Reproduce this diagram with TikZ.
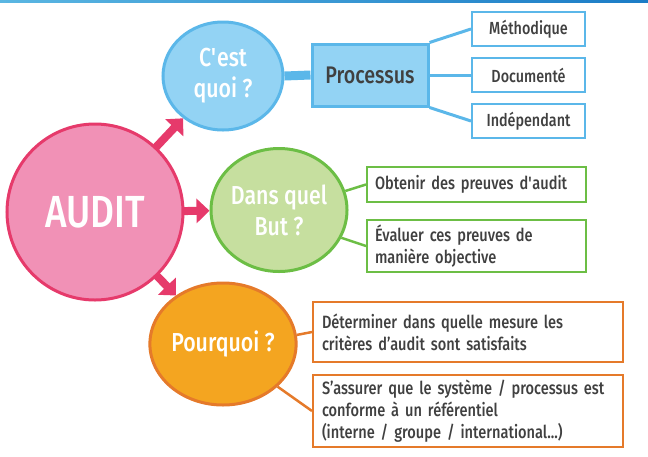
\documentclass[tikz,border=0pt]{standalone}
\usepackage{fontspec}
\setmainfont{Fira Sans}[FakeStretch=0.82,UprightFont=* Medium]
\usetikzlibrary{arrows.meta,shapes.geometric}
\definecolor{pinkfill}{HTML}{F191B6}
\definecolor{pinkline}{HTML}{E63A6B}
\definecolor{bluefill}{HTML}{93D3F4}
\definecolor{blueline}{HTML}{5BB7E9}
\definecolor{greenfill}{HTML}{C6DF9F}
\definecolor{greenline}{HTML}{6CBE45}
\definecolor{orangefill}{HTML}{F4A520}
\definecolor{orangeline}{HTML}{E57A2A}
\definecolor{txt}{HTML}{404040}
\definecolor{topA}{HTML}{5AB6E2}
\definecolor{topB}{HTML}{1B7CC6}
\begin{document}
\begin{tikzpicture}[x=1pt,y=-1pt,
  bubble/.style={ellipse,line width=3pt,text=white,align=center,inner sep=0pt,
    font=\fontsize{26}{31}\selectfont},
  smallbox/.style={draw=blueline,line width=2pt,fill=white,text=txt,
    minimum width=113pt,minimum height=34pt,inner sep=0pt,
    font=\fontsize{17.5}{20}\selectfont},
  txtbox/.style={line width=2pt,fill=white,text=txt,align=left,inner sep=0pt,
    font=\fontsize{17.8}{22}\selectfont},
  pinkarrow/.style={line width=8pt,draw=pinkline,
    -{Triangle[width=24pt,length=13pt]},shorten <=-2pt},
  bluelink/.style={draw=blueline,line width=3pt},
  greenlink/.style={draw=greenline,line width=2.5pt},
  orangelink/.style={draw=orangeline,line width=2.5pt}]
\useasboundingbox (0,0) rectangle (648,456);
\shade[left color=topA,right color=topB] (0,0) rectangle (648,2);

% blue branch
\node[bubble,fill=bluefill,draw=blueline,minimum width=120pt,minimum height=108pt]
  (quoi) at (223,76) {C\textquotesingle est\\quoi ?};
\node[draw=blueline,fill=bluefill,line width=3pt,text=txt,minimum width=116pt,
  minimum height=62pt,inner sep=0pt,font=\fontsize{24}{26}\selectfont]
  (proc) at (370,75) {Processus};
\node[smallbox] (meth) at (528.5,29) {Méthodique};
\node[smallbox] (doc) at (528.5,75) {Documenté};
\node[smallbox] (indep) at (528.5,121) {Indépendant};
\draw[draw=blueline,line width=9pt] (quoi.east) -- (proc.west);
\draw[bluelink] (proc.north east) -- (meth.west);
\draw[bluelink] (proc.east) -- (doc.west);
\draw[bluelink] (proc.south east) -- (indep.west);

% green branch
\node[bubble,fill=greenfill,draw=greenline,minimum width=120pt,minimum height=123pt]
  (but) at (279,210) {Dans quel\\But ?};
\node[txtbox,draw=greenline,minimum width=219pt,minimum height=35pt,
  text width=203pt] (obt) at (476.5,184.5) {Obtenir des preuves d\textquotesingle audit};
\node[txtbox,draw=greenline,minimum width=219pt,minimum height=52pt,
  text width=203pt] (eval) at (476.5,246) {Évaluer ces preuves de\\manière objective};
\draw[greenlink] (but.16) -- (obt.west);
\draw[greenlink] (but.-24) -- (eval.west);

% orange branch
\node[bubble,fill=orangefill,draw=orangeline,minimum width=121pt,minimum height=122pt]
  (pq) at (223,344) {Pourquoi ?};
\node[txtbox,draw=orangeline,minimum width=310pt,minimum height=60pt,
  text width=292pt] (det) at (468,332)
  {Déterminer dans quelle mesure les\\critères d'audit sont satisfaits};
\node[txtbox,draw=orangeline,minimum width=310pt,minimum height=72pt,
  text width=292pt] (conf) at (468,411)
  {S'assurer que le système / processus est\\conforme à un référentiel\\(interne / groupe / international...)};
\draw[orangelink] (pq.7) -- (det.west);
\draw[orangelink] (pq.-38) -- (conf.west);

% audit
\node[circle,fill=pinkfill,draw=pinkline,line width=3pt,minimum size=176pt,
  inner sep=0pt,text=white,font=\fontsize{45}{50}\selectfont] (audit) at (95,212) {AUDIT};
\draw[pinkarrow] (audit) -- (quoi);
\draw[pinkarrow] (audit) -- (but);
\draw[pinkarrow] (audit) -- (pq);
\end{tikzpicture}
\end{document}
